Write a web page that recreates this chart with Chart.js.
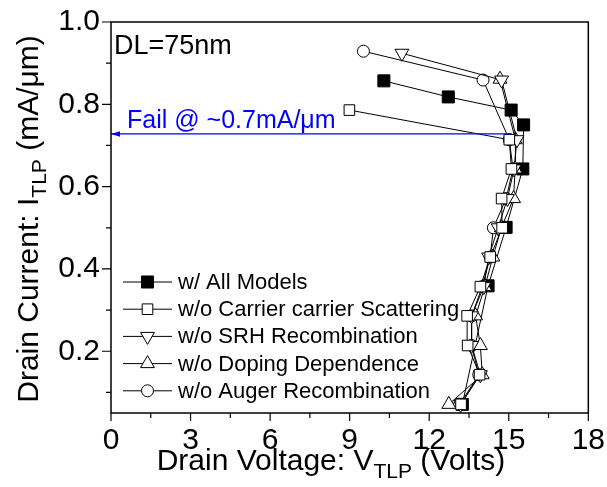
<!DOCTYPE html>
<html>
<head>
<meta charset="utf-8">
<script src="https://cdn.jsdelivr.net/npm/chart.js@4.4.1/dist/chart.umd.min.js"></script>
<style>
  html, body { margin: 0; padding: 0; background: #fff; }
  canvas { display: block; }
</style>
</head>
<body>
<canvas id="tlp-chart" width="607" height="487"></canvas>
<script>
'use strict';

// current steps (mA/um) used by the open-marker runs
let currentSteps = [0.071, 0.143, 0.214, 0.286, 0.357, 0.429, 0.5, 0.571, 0.643, 0.714];

let allModelsV = [13.25, 14.22, 14.9, 15.53, 15.56, 15.09, 12.72, 10.29];
let allModelsI = [0.071, 0.359, 0.501, 0.643, 0.75, 0.786, 0.818, 0.857];

let carrierV = [13.2, 13.9, 13.45, 13.43, 13.93, 14.3, 14.75, 14.73, 15.1, 15.02, 8.99];
let carrierI = currentSteps.concat([0.786]);

let srhV = [13.18, 13.93, 13.6, 13.6, 14.06, 14.24, 14.6, 14.95, 15.2, 15.31, 14.73, 10.97];
let srhI = currentSteps.concat([0.859, 0.924]);

let dopingV = [12.74, 14.0, 13.93, 13.75, 14.1, 14.4, 14.72, 15.18, 15.24, 15.25, 14.67];
let dopingI = currentSteps.concat([0.861]);

let augerV = [13.15, 13.87, 13.6, 13.6, 14.0, 14.3, 14.42, 14.9, 15.16, 15.02, 14.03, 9.52];
let augerI = currentSteps.concat([0.859, 0.929]);

let seriesNames = [
  'w/ All Models',
  'w/o Carrier carrier Scattering',
  'w/o SRH Recombination',
  'w/o Doping Dependence',
  'w/o Auger Recombination'
];

// failure current marker (arrow to the y axis)
let failV = [15.1, 0];
let failI = [0.728, 0.728];

let xTicks = [0, 1.5, 3, 4.5, 6, 7.5, 9, 10.5, 12, 13.5, 15, 16.5, 18];
let yTicks = [0.1, 0.2, 0.3, 0.4, 0.5, 0.6, 0.7, 0.8, 0.9, 1.0];

const FONT = '"Liberation Sans", Arial, sans-serif';

function toPoints(xs, ys) {
  let pts = [];
  for (let i = 0; i < xs.length; i++) {
    pts.push({ x: xs[i], y: ys[i] });
  }
  return pts;
}

function series(label, xs, ys, style, radius, fill, rotation, order) {
  return {
    label: label,
    data: toPoints(xs, ys),
    showLine: true,
    borderColor: '#000',
    borderWidth: 1,
    pointStyle: style,
    pointRadius: radius,
    pointRotation: rotation,
    pointBackgroundColor: fill,
    pointBorderColor: '#000',
    pointBorderWidth: 1,
    order: order
  };
}

// lower order = drawn on top
let datasets = [
  series(seriesNames[0], allModelsV, allModelsI, 'rect', 8.5, '#000', 0, 6),
  series(seriesNames[1], carrierV, carrierI, 'rect', 7.5, '#fff', 0, 1),
  series(seriesNames[2], srhV, srhI, 'triangle', 8, '#fff', 180, 2),
  series(seriesNames[3], dopingV, dopingI, 'triangle', 8, '#fff', 0, 3),
  series(seriesNames[4], augerV, augerI, 'circle', 6, '#fff', 0, 5),
  {
    label: 'fail',
    data: toPoints(failV, failI),
    showLine: true,
    borderColor: '#0000ff',
    borderWidth: 1.2,
    pointRadius: 0,
    order: 0
  }
];

function drawSubText(ctx, parts, x, y, align) {
  let total = 0;
  parts.forEach(p => {
    ctx.font = p.size + 'px ' + FONT;
    p.w = ctx.measureText(p.t).width;
    total += p.w;
  });
  let cx = align === 'center' ? x - total / 2 : x;
  ctx.textAlign = 'left';
  ctx.textBaseline = 'alphabetic';
  parts.forEach(p => {
    ctx.font = p.size + 'px ' + FONT;
    ctx.fillText(p.t, cx, y + p.dy);
    cx += p.w;
  });
}

function marker(ctx, ds, x, y) {
  ctx.fillStyle = ds.pointBackgroundColor;
  ctx.strokeStyle = '#000';
  ctx.lineWidth = 1;
  Chart.helpers.drawPoint(ctx, {
    pointStyle: ds.pointStyle,
    radius: ds.pointRadius,
    rotation: ds.pointRotation,
    borderWidth: 1
  }, x, y);
}

let overlayPlugin = {
  id: 'overlay',
  afterDraw(chart) {
    let ctx = chart.ctx;
    let area = chart.chartArea;
    let xs = chart.scales.x;
    let ys = chart.scales.y;
    ctx.save();

    // frame
    ctx.strokeStyle = '#000';
    ctx.lineWidth = 1.5;
    ctx.strokeRect(area.left, area.top, area.right - area.left, area.bottom - area.top);

    // tick marks, outward
    ctx.lineWidth = 1.2;
    ctx.beginPath();
    xTicks.forEach(v => {
      let px = xs.getPixelForValue(v);
      let len = v % 3 === 0 ? 8 : 5;
      ctx.moveTo(px, area.bottom);
      ctx.lineTo(px, area.bottom + len);
    });
    yTicks.forEach(v => {
      let py = ys.getPixelForValue(v);
      let len = Math.round(v * 10) % 2 === 0 ? 9 : 5;
      ctx.moveTo(area.left, py);
      ctx.lineTo(area.left - len, py);
    });
    ctx.stroke();

    // arrow head at the y axis
    let ax = xs.getPixelForValue(failV[1]);
    let ay = ys.getPixelForValue(failI[1]);
    ctx.fillStyle = '#0000ff';
    ctx.beginPath();
    ctx.moveTo(ax, ay);
    ctx.lineTo(ax + 9, ay - 2.8);
    ctx.lineTo(ax + 9, ay + 2.8);
    ctx.closePath();
    ctx.fill();

    // annotations
    ctx.textAlign = 'left';
    ctx.textBaseline = 'alphabetic';
    ctx.font = '25px ' + FONT;
    ctx.fillText('Fail @ ~0.7mA/\u03bcm', 127, 128);
    ctx.fillStyle = '#000';
    ctx.font = '27px ' + FONT;
    ctx.fillText('DL=75nm', 114, 54);

    // axis titles with subscripts
    drawSubText(ctx, [
      { t: 'Drain Voltage: V', size: 30, dy: 0 },
      { t: 'TLP', size: 21, dy: 8 },
      { t: ' (Volts)', size: 30, dy: 0 }
    ], 331, 470, 'center');

    ctx.save();
    ctx.translate(38, 219);
    ctx.rotate(-Math.PI / 2);
    drawSubText(ctx, [
      { t: 'Drain Current: I', size: 30, dy: 0 },
      { t: 'TLP', size: 21, dy: 8 },
      { t: ' (mA/\u03bcm)', size: 30, dy: 0 }
    ], 0, 0, 'center');
    ctx.restore();

    // legend
    let rowY = 282;
    for (let i = 0; i < seriesNames.length; i++) {
      let ds = chart.data.datasets[i];
      let y = rowY + i * 27.2;
      ctx.strokeStyle = '#000';
      ctx.lineWidth = 1;
      ctx.beginPath();
      ctx.moveTo(123, y);
      ctx.lineTo(172, y);
      ctx.stroke();
      marker(ctx, ds, 147.5, y);
      ctx.fillStyle = '#000';
      ctx.font = '22px ' + FONT;
      ctx.textBaseline = 'middle';
      ctx.fillText(seriesNames[i], 178, y + 1);
    }

    ctx.restore();
  }
};

Chart.defaults.font.family = FONT;
Chart.defaults.color = '#000';

let canvasElem = document.getElementById('tlp-chart');

new Chart(canvasElem, {
  type: 'scatter',
  data: { datasets: datasets },
  options: {
    responsive: false,
    animation: false,
    events: [],
    layout: { padding: { top: 22, right: 17, left: 0, bottom: 0 } },
    plugins: {
      legend: { display: false },
      tooltip: { enabled: false }
    },
    scales: {
      x: {
        type: 'linear',
        min: 0,
        max: 18,
        afterBuildTicks: s => { s.ticks = xTicks.map(v => ({ value: v })); },
        afterFit: s => { s.height = 74; },
        grid: { drawOnChartArea: false, drawTicks: true, tickLength: 8, tickColor: 'rgba(0,0,0,0)' },
        border: { display: false },
        ticks: {
          autoSkip: false,
          maxRotation: 0,
          padding: 2,
          color: '#000',
          font: { size: 30 },
          callback: v => (v % 3 === 0 ? String(v) : '')
        }
      },
      y: {
        type: 'linear',
        min: 0.05,
        max: 1.0,
        afterBuildTicks: s => { s.ticks = yTicks.map(v => ({ value: v })); },
        afterFit: s => { s.width = 111; },
        grid: { drawOnChartArea: false, drawTicks: true, tickLength: 9, tickColor: 'rgba(0,0,0,0)' },
        border: { display: false },
        ticks: {
          autoSkip: false,
          padding: 2,
          color: '#000',
          font: { size: 30 },
          callback: v => (Math.round(v * 10) % 2 === 0 ? v.toFixed(1) : '')
        }
      }
    }
  },
  plugins: [overlayPlugin]
});
</script>
</body>
</html>
